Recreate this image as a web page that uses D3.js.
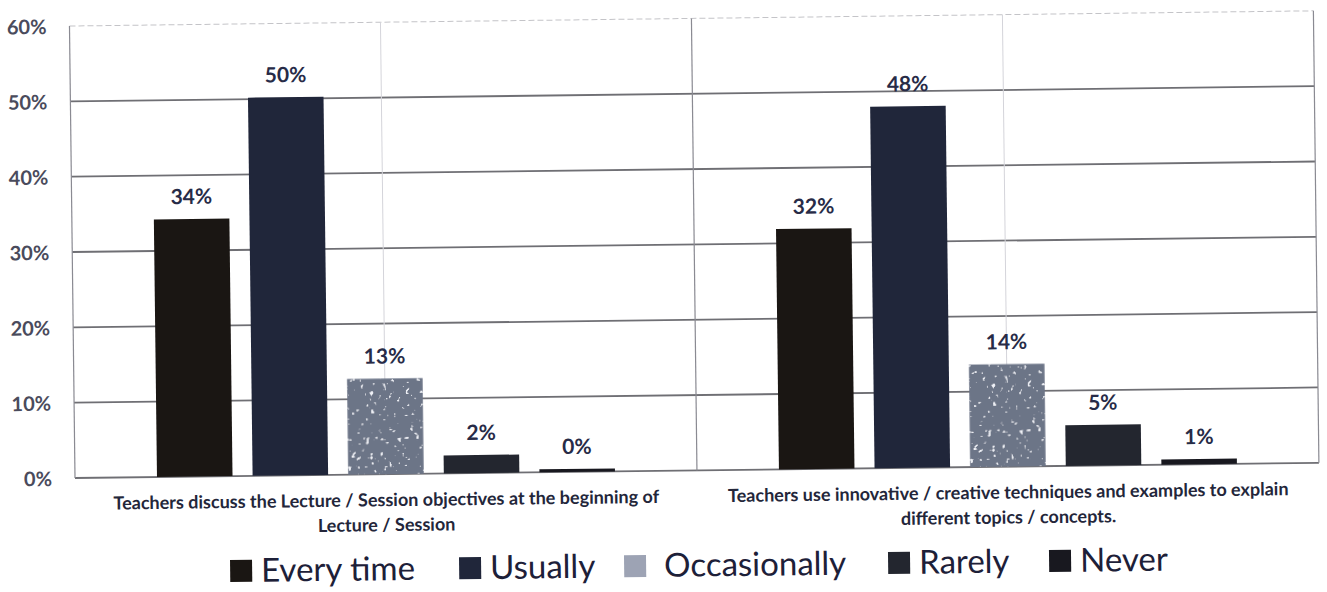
<!DOCTYPE html>
<html>
<head>
<meta charset="utf-8">
<script src="https://cdn.jsdelivr.net/npm/d3@7"></script>
<style>
  body { margin: 0; background: #fff; }
  text { font-family: Lato, "Open Sans", sans-serif; }
</style>
</head>
<body>
<div class="container"></div>
<script>
const width = 1327;
const height = 592;

// dados
const categories = [
  'Teachers discuss the Lecture / Session objectives at the beginning of|Lecture / Session',
  'Teachers use innovative / creative techniques and examples to explain|different topics / concepts.'
];
const series = ['Every time', 'Usually', 'Occasionally', 'Rarely', 'Never'];
const lectureValues = [34.2, 50.2, 12.7, 2.4, 0.4];
const innovativeValues = [31.9, 48.0, 13.6, 5.4, 0.7];
const yTicks = [0, 10, 20, 30, 40, 50, 60];
const seriesColors = ['#1a1613', '#20263a', '#6c7487', '#23262f', '#18181f'];

const values = [lectureValues, innovativeValues];

const svg = d3.select('.container')
  .append('svg')
  .attr('width', width)
  .attr('height', height);

// textura salpicada da barra "Occasionally"
const defs = svg.append('defs');
const filtro = defs.append('filter')
  .attr('id', 'manchas')
  .attr('x', 0).attr('y', 0).attr('width', 1).attr('height', 1);
filtro.append('feTurbulence')
  .attr('type', 'fractalNoise')
  .attr('baseFrequency', 0.22)
  .attr('numOctaves', 2)
  .attr('seed', 7)
  .attr('result', 'ruido');
filtro.append('feColorMatrix')
  .attr('in', 'ruido')
  .attr('type', 'matrix')
  .attr('values', '0 0 0 0 0.85  0 0 0 0 0.87  0 0 0 0 0.92  14 0 0 0 -9.4')
  .attr('result', 'pontos');
filtro.append('feComposite')
  .attr('in', 'pontos')
  .attr('in2', 'SourceGraphic')
  .attr('operator', 'in')
  .attr('result', 'pontosDentro');
filtro.append('feMerge')
  .call(m => m.append('feMergeNode').attr('in', 'SourceGraphic'))
  .call(m => m.append('feMergeNode').attr('in', 'pontosDentro'));

// a imagem original esta um pouco torta
const g = svg.append('g')
  .attr('transform', 'rotate(-0.7, 75, 478)');

const x0 = d3.scaleBand()
  .domain(categories)
  .range([75, 1319]);

const x1 = d3.scaleBand()
  .domain(series)
  .range([82, 540])
  .paddingInner(0.21);

const y = d3.scaleLinear()
  .domain([0, 60])
  .range([478, 26]);

const color = d3.scaleOrdinal()
  .domain(series)
  .range(seriesColors);

// grade horizontal
g.append('g')
  .selectAll('line')
  .data(yTicks)
  .enter()
  .append('line')
  .attr('x1', 75)
  .attr('x2', 1319)
  .attr('y1', d => y(d))
  .attr('y2', d => y(d))
  .attr('stroke', d => d === 60 ? '#c4c4c8' : '#6f6f74')
  .attr('stroke-width', d => d === 60 ? 1 : 1.8)
  .attr('stroke-dasharray', d => d === 60 ? '6 3' : null);

// linhas verticais: bordas e centros
const bordas = [75, x0(categories[1]), 1319];
g.append('g')
  .selectAll('line')
  .data(bordas)
  .enter()
  .append('line')
  .attr('x1', d => d)
  .attr('x2', d => d)
  .attr('y1', y(60))
  .attr('y2', y(0))
  .attr('stroke', '#8a8a92')
  .attr('stroke-width', 1.2);

g.append('g')
  .selectAll('line')
  .data(categories)
  .enter()
  .append('line')
  .attr('x1', d => x0(d) + x0.bandwidth() / 2)
  .attr('x2', d => x0(d) + x0.bandwidth() / 2)
  .attr('y1', y(60))
  .attr('y2', y(0))
  .attr('stroke', '#d4d4da')
  .attr('stroke-width', 1);

// rotulos do eixo y
const yAxis = d3.axisLeft(y)
  .tickValues(yTicks)
  .tickFormat(d => d + '%')
  .tickSize(0)
  .tickPadding(23);

g.append('g')
  .attr('transform', 'translate(75,0)')
  .call(yAxis)
  .call(s => s.select('.domain').remove())
  .selectAll('text')
  .attr('font-size', 20)
  .attr('font-weight', 700)
  .attr('fill', '#4a4b5c')
  .attr('dy', '0.36em');

// barras
const grupos = g.append('g')
  .selectAll('g')
  .data(categories.map((c, i) => ({ cat: c, vals: values[i] })))
  .enter()
  .append('g')
  .attr('transform', d => `translate(${x0(d.cat)},0)`);

grupos.selectAll('rect')
  .data(d => series.map((s, j) => ({ serie: s, valor: d.vals[j] })))
  .enter()
  .append('rect')
  .attr('x', d => x1(d.serie))
  .attr('width', x1.bandwidth())
  .attr('y', d => y(d.valor))
  .attr('height', d => y(0) - y(d.valor))
  .attr('fill', d => color(d.serie))
  .attr('filter', d => d.serie === 'Occasionally' ? 'url(#manchas)' : null);

grupos.selectAll('text.rotulo')
  .data(d => series.map((s, j) => ({ serie: s, valor: d.vals[j] })))
  .enter()
  .append('text')
  .attr('class', 'rotulo')
  .attr('x', d => x1(d.serie) + x1.bandwidth() / 2)
  .attr('y', d => y(d.valor) - 15)
  .attr('text-anchor', 'middle')
  .attr('font-size', 21)
  .attr('font-weight', 700)
  .attr('fill', '#272b47')
  .text(d => Math.round(d.valor) + '%');

// rotulos das categorias
const catText = g.append('g')
  .selectAll('text')
  .data(categories)
  .enter()
  .append('text')
  .attr('x', d => x0(d) + x0.bandwidth() / 2)
  .attr('y', 510)
  .attr('text-anchor', 'middle')
  .attr('font-size', 18)
  .attr('font-weight', 700)
  .attr('fill', '#23263a');

catText.selectAll('tspan')
  .data(d => d.split('|'))
  .enter()
  .append('tspan')
  .attr('x', function () { return d3.select(this.parentNode).attr('x'); })
  .attr('dy', (d, i) => i === 0 ? 0 : 25)
  .text(d => d);

// legenda
const legendX = [229, 458, 623, 887, 1048];
const legenda = g.append('g')
  .selectAll('g')
  .data(series)
  .enter()
  .append('g')
  .attr('transform', (d, i) => `translate(${legendX[i]}, 584)`);

legenda.append('rect')
  .attr('x', 0)
  .attr('y', -22)
  .attr('width', 22)
  .attr('height', 22)
  .attr('fill', d => d === 'Occasionally' ? '#9da3b4' : color(d));

legenda.append('text')
  .attr('x', d => d === 'Occasionally' ? 40 : 31)
  .attr('y', 0)
  .attr('font-size', 33)
  .attr('fill', '#1d2038')
  .text(d => d);
</script>
</body>
</html>
